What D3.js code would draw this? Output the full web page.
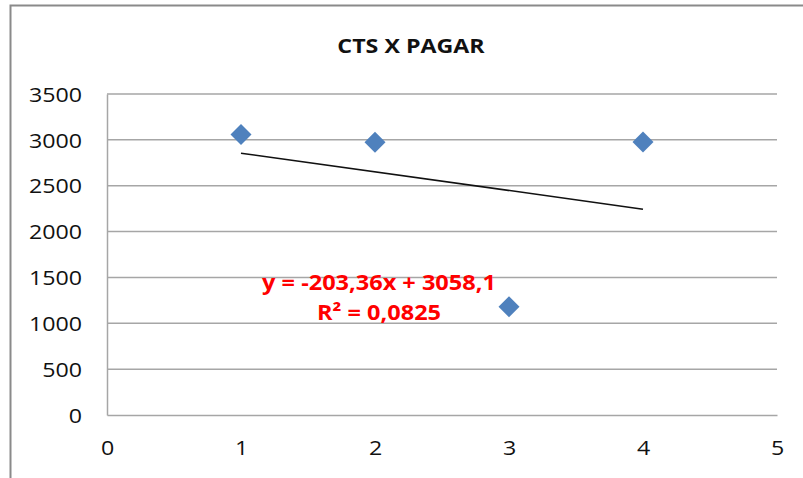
<!DOCTYPE html>
<html>
<head>
<meta charset="utf-8">
<script src="https://cdn.jsdelivr.net/npm/d3@7"></script>
<style>
  html, body { margin: 0; padding: 0; background: #fff; }
  svg { display: block; }
</style>
</head>
<body>
<svg id="chart" width="803" height="478"></svg>
<script>
// CTS x PAGAR — scatter with linear trendline
const xValues = [1, 2, 3, 4];
const yValues = [3059, 2975, 1180, 2977];
const xTicks = [0, 1, 2, 3, 4, 5];
const yTicks = [0, 500, 1000, 1500, 2000, 2500, 3000, 3500];
const trendSlope = -203.36;
const trendIntercept = 3058.1;
const trendLabels = ["y = -203,36x + 3058,1", "R² = 0,0825"];
const chartTitle = "CTS X PAGAR";

const W = 803, H = 478;
const plot = { left: 107, right: 777, top: 94, bottom: 415 };
const FONT = "'Open Sans', 'DejaVu Sans', sans-serif";

const svg = d3.select("#chart");

svg.append("rect").attr("width", W).attr("height", H).attr("fill", "#fff");

// chart frame
svg.append("rect")
  .attr("x", 10.5).attr("y", 5.5)
  .attr("width", W + 20).attr("height", H + 20)
  .attr("fill", "none").attr("stroke", "#8a8a8a").attr("stroke-width", 2);

const x = d3.scaleLinear().domain([0, 5]).range([plot.left, plot.right]);
const y = d3.scaleLinear().domain([0, 3500]).range([plot.bottom, plot.top]);

// horizontal gridlines
svg.append("g")
  .selectAll("line")
  .data(yTicks.filter(v => v > 0))
  .join("line")
  .attr("x1", plot.left).attr("x2", plot.right)
  .attr("y1", d => y(d)).attr("y2", d => y(d))
  .attr("stroke", "#a6a6a6").attr("stroke-width", 1.5);

// widen glyphs horizontally, keeping them as text
function stretch(sel, k) {
  sel.each(function () {
    const len = this.getComputedTextLength();
    d3.select(this).attr("textLength", len * k).attr("lengthAdjust", "spacingAndGlyphs");
  });
}

// y axis
const yAxis = svg.append("g")
  .attr("transform", `translate(${plot.left},0)`)
  .call(d3.axisLeft(y).tickValues(yTicks).tickSize(0).tickPadding(25).tickFormat(d3.format("d")));
yAxis.select(".domain").attr("stroke", "#a6a6a6").attr("stroke-width", 1.5);
yAxis.selectAll("text")
  .attr("font-family", FONT).attr("font-size", 20).attr("fill", "#111")
  .attr("dy", "0.36em")
  .call(stretch, 1.16);

// x axis
const xAxis = svg.append("g")
  .attr("transform", `translate(0,${plot.bottom})`)
  .call(d3.axisBottom(x).tickValues(xTicks).tickSize(0).tickPadding(26).tickFormat(d3.format("d")));
xAxis.select(".domain").attr("stroke", "#a6a6a6").attr("stroke-width", 1.5);
xAxis.selectAll("text")
  .attr("font-family", FONT).attr("font-size", 20).attr("fill", "#111")
  .call(stretch, 1.16);

// trendline
svg.append("line")
  .attr("x1", x(xValues[0])).attr("y1", y(trendSlope * xValues[0] + trendIntercept))
  .attr("x2", x(xValues[xValues.length - 1])).attr("y2", y(trendSlope * xValues[xValues.length - 1] + trendIntercept))
  .attr("stroke", "#111").attr("stroke-width", 1.5);

// data points: diamonds
const diamond = d3.symbol().type(d3.symbolSquare).size(220);
svg.append("g")
  .selectAll("path")
  .data(xValues.map((v, i) => [v, yValues[i]]))
  .join("path")
  .attr("d", diamond)
  .attr("transform", d => `translate(${x(d[0])},${y(d[1])}) rotate(45)`)
  .attr("fill", "#4f81bd");

// trendline equation
svg.append("g")
  .selectAll("text")
  .data(trendLabels)
  .join("text")
  .attr("x", 379).attr("y", (d, i) => 290 + i * 30)
  .attr("text-anchor", "middle")
  .attr("font-family", FONT).attr("font-size", 21).attr("font-weight", 700)
  .attr("fill", "#ff0000")
  .text(d => d)
  .call(stretch, 1.12);

// title
svg.append("text")
  .attr("x", 411).attr("y", 53)
  .attr("text-anchor", "middle")
  .attr("font-family", FONT).attr("font-size", 20).attr("font-weight", 700)
  .attr("fill", "#111")
  .text(chartTitle)
  .call(stretch, 1.16);
</script>
</body>
</html>
